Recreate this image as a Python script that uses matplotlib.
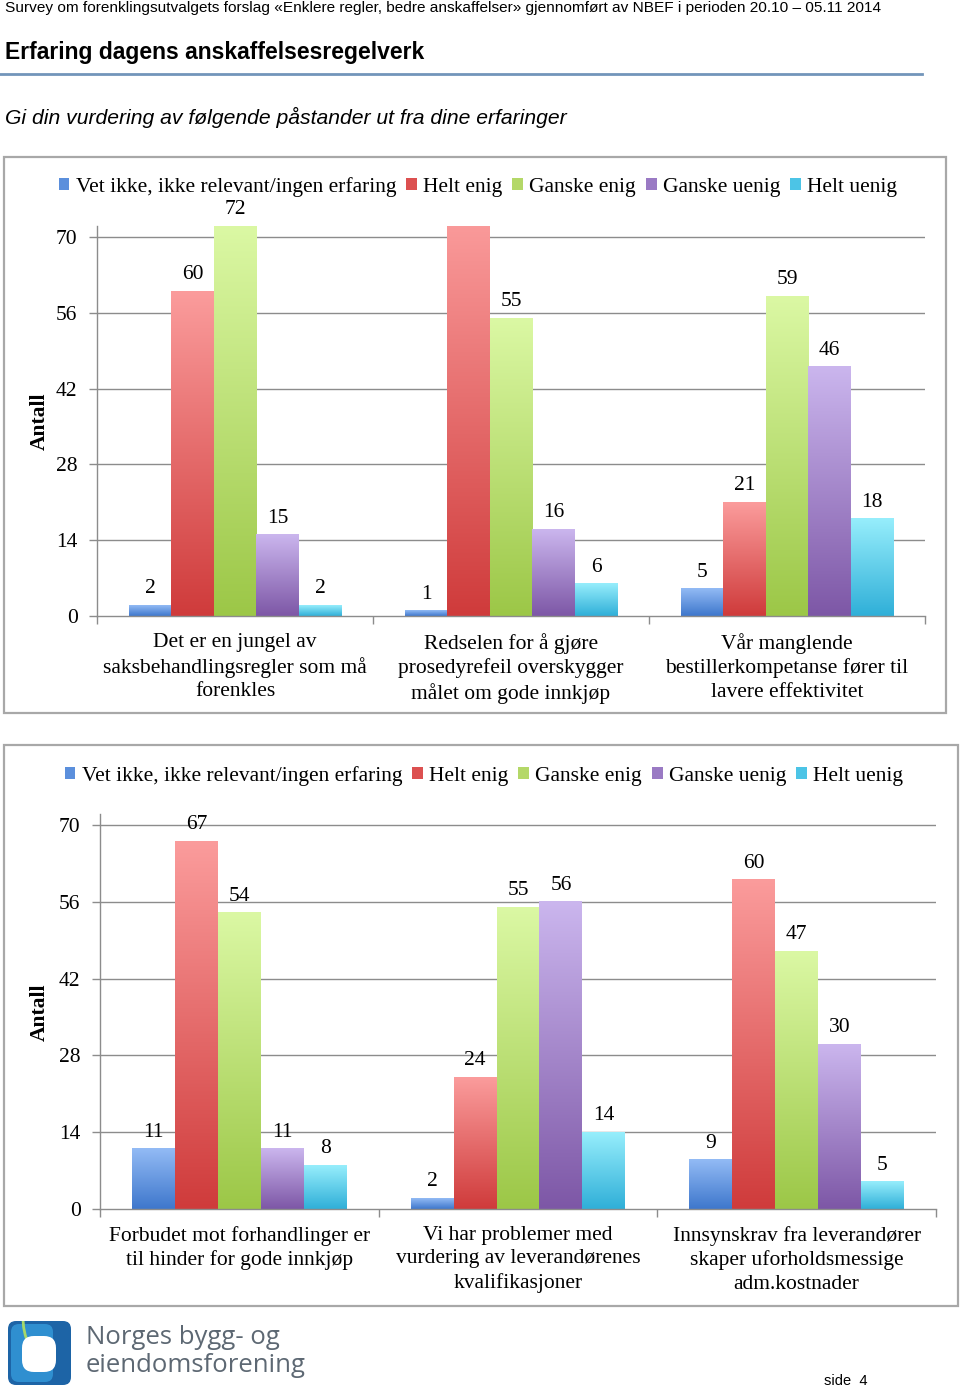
import numpy as np
import matplotlib
matplotlib.use('Agg')
import matplotlib.pyplot as plt
from matplotlib.colors import LinearSegmentedColormap
from matplotlib.patches import Rectangle, FancyBboxPatch, Arc

plt.rcParams['font.family'] = ['Liberation Serif', 'DejaVu Serif']

# ---- data ----
series = ['Vet ikke, ikke relevant/ingen erfaring', 'Helt enig', 'Ganske enig',
          'Ganske uenig', 'Helt uenig']

cats1 = ['Det er en jungel av\nsaksbehandlingsregler som må\nforenkles',
         'Redselen for å gjøre\nprosedyrefeil overskygger\nmålet om gode innkjøp',
         'Vår manglende\nbestillerkompetanse fører til\nlavere effektivitet']
vet1 = [2, 1, 5]
helt_enig1 = [60, 74, 21]      # middle bar runs past the axis top (no label shown)
ganske_enig1 = [72, 55, 59]
ganske_uenig1 = [15, 16, 46]
helt_uenig1 = [2, 6, 18]

cats2 = ['Forbudet mot forhandlinger er\ntil hinder for gode innkjøp',
         'Vi har problemer med\nvurdering av leverandørenes\nkvalifikasjoner',
         'Innsynskrav fra leverandører\nskaper uforholdsmessige\nadm.kostnader']
vet2 = [11, 2, 9]
helt_enig2 = [67, 24, 60]
ganske_enig2 = [54, 55, 47]
ganske_uenig2 = [11, 56, 30]
helt_uenig2 = [8, 14, 5]

yticks = [0, 14, 28, 42, 56, 70]
ymax = 72

# (top, bottom) gradient colours per series
grad_cols = [('#93bbf5', '#3e77cc'), ('#fb9c9c', '#cf3b3b'), ('#dbf8a4', '#9cc747'),
             ('#cbb6ee', '#7d57a6'), ('#97eefc', '#2fafd8')]
mid_cols = ['#5b8fdc', '#dc5050', '#b4d868', '#9a7ac4', '#4cc4e6']
FS = 15.5

W, H = 960, 1390
fig = plt.figure(figsize=(W / 100, H / 100), dpi=100)

# overlay in pixel coordinates for page furniture
bg = fig.add_axes([0, 0, 1, 1])
bg.set_xlim(0, W)
bg.set_ylim(H, 0)
bg.axis('off')

bg.text(5, 8, 'Survey om forenklingsutvalgets forslag «Enklere regler, bedre anskaffelser» '
        'gjennomført av NBEF i perioden 20.10 – 05.11 2014',
        family='Liberation Sans', fontsize=11.1, va='center', ha='left')
bg.text(5, 53, 'Erfaring dagens anskaffelsesregelverk', family='Liberation Sans',
        fontsize=16.5, fontweight='bold', va='center', ha='left')
bg.plot([0, 922], [74, 74], color='#7295ba', lw=2)
bg.text(5, 117, 'Gi din vurdering av følgende påstander ut fra dine erfaringer',
        family='Liberation Sans', fontsize=15.2, style='italic', va='center', ha='left')

# chart frames
bg.add_patch(Rectangle((4, 157), 942, 556, fill=False, ec='#a8a8a8', lw=1.6))
bg.add_patch(Rectangle((4, 745), 954, 561, fill=False, ec='#a8a8a8', lw=1.6))

bg.text(40, 421, 'Antall', rotation=90, fontsize=FS, fontweight='bold',
        ha='center', va='center')
bg.text(40, 1012, 'Antall', rotation=90, fontsize=FS, fontweight='bold',
        ha='center', va='center')

# footer logo
outer = FancyBboxPatch((8, 1321), 63, 64, boxstyle='round,pad=0,rounding_size=8',
                       fc='#1d64a6', ec='none')
bg.add_patch(outer)
bg.add_patch(FancyBboxPatch((11, 1324), 42, 58, boxstyle='round,pad=0,rounding_size=8',
                            fc='#2f8fd0', ec='none'))
arc = Arc((78, 1318), 110, 120, theta1=150, theta2=215, color='#a6d86a', lw=2)
bg.add_patch(arc)
arc.set_clip_path(outer)
bg.add_patch(FancyBboxPatch((22, 1336), 34, 36, boxstyle='round,pad=0,rounding_size=12',
                            fc='white', ec='none'))
bg.text(86, 1337, 'Norges bygg- og', family='Open Sans', fontsize=18.5,
        color='#5d6873', va='center', ha='left')
bg.text(86, 1366, 'eiendomsforening', family='Open Sans', fontsize=18.5,
        color='#5d6873', va='center', ha='left')
bg.text(824, 1381, 'side  4', family='Liberation Sans', fontsize=10.5,
        va='center', ha='left')

grad = np.linspace(1, 0, 256).reshape(-1, 1)
cmaps = [LinearSegmentedColormap.from_list('g%d' % i, [b, t]) for i, (t, b) in enumerate(grad_cols)]


def draw_chart(rect, cats, values, legend_xy):
    ax = fig.add_axes(rect)
    ax.set_facecolor('none')
    n = len(values)
    w = 0.154
    x = np.arange(len(cats))
    for i, vals in enumerate(values):
        xs = x + (i - (n - 1) / 2) * w
        bars = ax.bar(xs, vals, w, color='none', zorder=2)
        for b, v in zip(bars, vals):
            x0 = b.get_x()
            ax.imshow(grad, extent=[x0, x0 + w, 0, v], cmap=cmaps[i], aspect='auto',
                      vmin=0, vmax=1, zorder=2, interpolation='bicubic')
            if v <= ymax:
                ax.annotate(str(v), (x0 + w / 2, v), xytext=(0, 5), textcoords='offset points',
                            ha='center', va='bottom', fontsize=FS)
    ax.set_xlim(-0.5, len(cats) - 0.5)
    ax.set_ylim(0, ymax)
    ax.set_yticks(yticks)
    ax.set_yticklabels([str(t) for t in yticks], fontsize=FS)
    ax.set_xticks(x)
    ax.set_xticklabels(cats, fontsize=FS, linespacing=1.32)
    ax.set_xticks(np.arange(-0.5, len(cats), 1), minor=True)
    ax.tick_params(axis='x', which='major', length=0, pad=12)
    ax.tick_params(axis='x', which='minor', length=6, color='#8c8c8c', width=1)
    ax.tick_params(axis='y', length=6, color='#8c8c8c', width=1, pad=8)
    for t in yticks[1:]:
        ax.axhline(t, color='#8c8c8c', lw=1, zorder=1)
    for s in ['top', 'right']:
        ax.spines[s].set_visible(False)
    for s in ['left', 'bottom']:
        ax.spines[s].set_color('#8c8c8c')
        ax.spines[s].set_linewidth(1)
    handles = [Rectangle((0, 0), 1, 1, fc=c, ec='none') for c in mid_cols]
    ax.legend(handles, series, loc='center', bbox_to_anchor=legend_xy,
              bbox_transform=fig.transFigure, ncol=5, frameon=False, fontsize=FS,
              handlelength=0.5, handleheight=0.5, handletextpad=0.3, columnspacing=0.45,
              borderaxespad=0)
    return ax


draw_chart([97 / W, 1 - 616 / H, 828 / W, 390 / H], cats1,
           [vet1, helt_enig1, ganske_enig1, ganske_uenig1, helt_uenig1],
           (478 / W, 1 - 187 / H))
draw_chart([100 / W, 1 - 1209 / H, 836 / W, 395 / H], cats2,
           [vet2, helt_enig2, ganske_enig2, ganske_uenig2, helt_uenig2],
           (484 / W, 1 - 776 / H))

fig.savefig('out.png', dpi=100)
